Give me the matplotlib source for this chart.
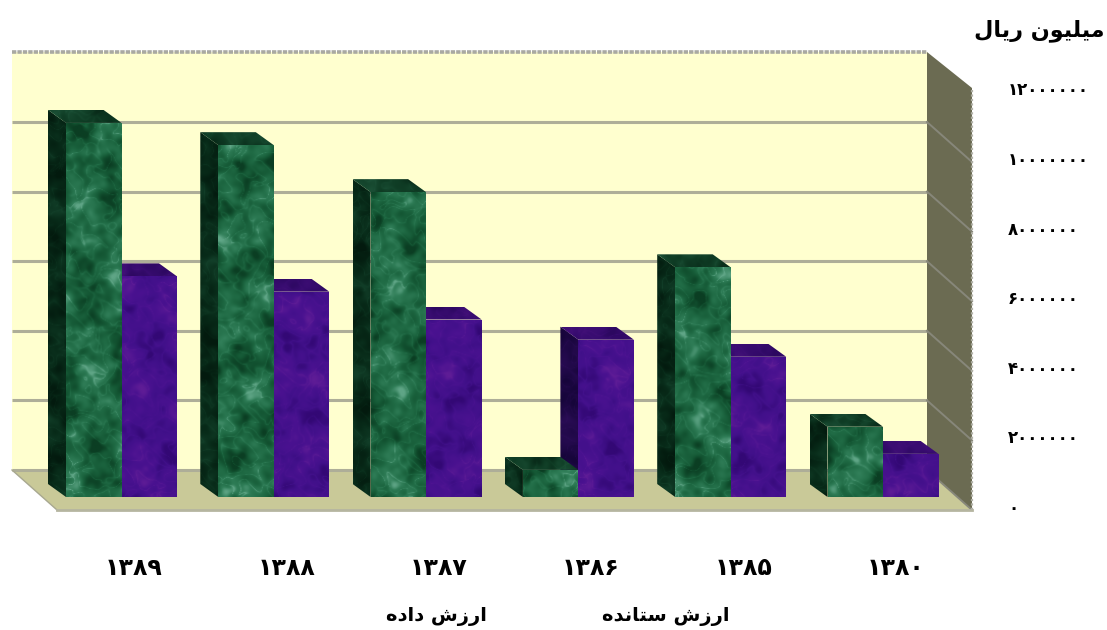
import matplotlib
matplotlib.use("Agg")
import matplotlib.pyplot as plt
import numpy as np
from matplotlib.colors import LinearSegmentedColormap
from matplotlib.patches import Polygon

# ---------------------------------------------------------------------------
# Data
# ---------------------------------------------------------------------------
years = ["۱۳۸۹", "۱۳۸۸", "۱۳۸۷", "۱۳۸۶", "۱۳۸۵", "۱۳۸۰"]
output_value = [10750000, 10110000, 8760000, 780000, 6600000, 2020000]
input_value = [6340000, 5900000, 5100000, 4520000, 4030000, 1240000]
tick_values = [0, 2000000, 4000000, 6000000, 8000000, 10000000, 12000000]
tick_labels = ["۰", "۲۰۰۰۰۰۰", "۴۰۰۰۰۰۰", "۶۰۰۰۰۰۰", "۸۰۰۰۰۰۰", "۱۰۰۰۰۰۰۰", "۱۲۰۰۰۰۰۰"]
unit_label = "میلیون ریال"
legend_labels = ["ارزش داده", "ارزش ستانده"]

# ---------------------------------------------------------------------------
# Persian shaping: matplotlib does not join letters or run them right to left
# ---------------------------------------------------------------------------
DUAL = {"م": 0xFEE1, "ل": 0xFEDD, "ن": 0xFEE5, "ش": 0xFEB5,
        "س": 0xFEB1, "ت": 0xFE95, "ه": 0xFEE9}
RIGHT = {"و": 0xFEED, "ر": 0xFEAD, "ز": 0xFEAF, "ا": 0xFE8D, "د": 0xFEA9}
YEH = "ی"


def shape(text):
    out = []
    for word in text.split(" "):
        forms = []
        for k, ch in enumerate(word):
            joins_prev = k > 0 and word[k - 1] not in RIGHT
            joins_next = k < len(word) - 1 and ch not in RIGHT
            if ch == YEH:
                base = 0xFBFC
            elif ch in DUAL:
                base = DUAL[ch]
            else:
                base = RIGHT[ch]
            offset = {(False, False): 0, (True, False): 1,
                      (False, True): 2, (True, True): 3}[(joins_prev, joins_next)]
            forms.append(chr(base + offset))
        out.append("".join(reversed(forms)))
    return " ".join(reversed(out))


# ---------------------------------------------------------------------------
# Layout: data axes fill the figure, bar front plane is the data plane
# ---------------------------------------------------------------------------
GROUP_PX = 152.3
UNIT_PX = 69.6 / 2000000


def to_x(px):
    return (px - 66) / GROUP_PX


def to_v(py):
    return (497 - py) / UNIT_PX


BAR_W = 55.5 / GROUP_PX
DX = 18 / GROUP_PX
DV = 13 / UNIT_PX

fig = plt.figure(figsize=(11.07, 6.30), dpi=100, facecolor="white")
ax = fig.add_axes([0, 0, 1, 1])
ax.set_xlim(to_x(0), to_x(1107))
ax.set_ylim(to_v(630), to_v(0))
ax.axis("off")


def poly(points, **kw):
    pts = [(to_x(a), to_v(b)) for a, b in points]
    ax.add_patch(Polygon(pts, closed=True, **kw))


# walls and floor
WALL_L, WALL_R = 12, 927
WALL_BOTTOM, WALL_TOP = 470, 52
DEPTH_X, DEPTH_Y = 45, 40
poly([(WALL_L, WALL_TOP), (WALL_R, WALL_TOP), (WALL_R, WALL_BOTTOM), (WALL_L, WALL_BOTTOM)],
     facecolor="#ffffcf", edgecolor="none", zorder=1)
poly([(WALL_L, WALL_BOTTOM), (WALL_R, WALL_BOTTOM),
      (WALL_R + DEPTH_X, WALL_BOTTOM + DEPTH_Y), (WALL_L + DEPTH_X, WALL_BOTTOM + DEPTH_Y)],
     facecolor="#c9c998", edgecolor="none", zorder=1)
poly([(WALL_R, WALL_TOP), (WALL_R + DEPTH_X, WALL_TOP + DEPTH_Y - 4),
      (WALL_R + DEPTH_X, WALL_BOTTOM + DEPTH_Y), (WALL_R, WALL_BOTTOM)],
     facecolor="#6b6b52", edgecolor="none", zorder=1)

# gridlines on the back wall, running on down the side wall
back_shift = to_v(WALL_BOTTOM)
for v in tick_values:
    y = back_shift + v
    if v == tick_values[-1]:
        ax.plot([to_x(WALL_L), to_x(WALL_R)], [y, y], color="#a9a9a2", lw=2.6,
                ls=(0, (1.2, 0.3)), zorder=2)
        continue
    ax.plot([to_x(WALL_L), to_x(WALL_R)], [y, y], color="#aeae98", lw=2.2, zorder=2,
            solid_capstyle="butt")
    ax.plot([to_x(WALL_R), to_x(WALL_R + DEPTH_X)],
            [y, y - DEPTH_Y / UNIT_PX], color="#87877a", lw=1.4, zorder=2)
ax.plot([to_x(WALL_L), to_x(WALL_L + DEPTH_X)],
        [back_shift, back_shift - DEPTH_Y / UNIT_PX], color="#a8a890", lw=1.0, zorder=2)
ax.plot([to_x(WALL_L + DEPTH_X), to_x(WALL_R + DEPTH_X)],
        [back_shift - DEPTH_Y / UNIT_PX] * 2, color="#b5b5a0", lw=2.0, zorder=2)
ax.plot([to_x(WALL_R + DEPTH_X)] * 2,
        [back_shift - DEPTH_Y / UNIT_PX, to_v(WALL_TOP + DEPTH_Y - 4)],
        color="#b0b0a6", lw=1.6, ls=(0, (1, 1)), zorder=2)


# ---------------------------------------------------------------------------
# Marble texture for the bar faces: layered sine clouds with thin bright veins
# ---------------------------------------------------------------------------
def cloud(xx, yy, phase, first, last):
    total = np.zeros_like(xx)
    for k in range(first, last):
        angle = k * 2.39996 + phase
        wavelength = 70 / (1 + 0.42 * k)
        total += wavelength * np.sin((xx * np.cos(angle) + yy * np.sin(angle))
                                     * 2 * np.pi / wavelength + k * k * 0.7 + phase)
    return total / total.std()


def marble(w_px, h_px, phase):
    nx, ny = max(int(w_px), 4), max(int(h_px), 4)
    xx, yy = np.meshgrid(np.arange(nx, dtype=float), np.arange(ny, dtype=float))
    warp = cloud(xx, yy, phase + 1.1, 0, 8)
    veins = np.exp(-np.abs(cloud(xx + 4 * warp, yy - 4 * warp, phase, 3, 14)) * 4.5)
    field = 0.7 * cloud(xx, yy, phase, 0, 16) + 0.9 * veins
    low, high = np.percentile(field, [1, 99.8])
    return np.clip((field - low) / (high - low), 0, 1)


green_map = LinearSegmentedColormap.from_list("g", ["#0b3e23", "#145734", "#1f6a44", "#2f7d57", "#5fa586"])
green_side = LinearSegmentedColormap.from_list("gs", ["#031a0e", "#082b19", "#123f29"])
green_top = LinearSegmentedColormap.from_list("gt", ["#092c1a", "#103e26", "#1b5036"])
purple_map = LinearSegmentedColormap.from_list("p", ["#330875", "#41108a", "#4a1290", "#5e1c96"])
purple_side = LinearSegmentedColormap.from_list("ps", ["#16053a", "#210949", "#2c0d58"])
purple_top = LinearSegmentedColormap.from_list("pt", ["#2c0860", "#380c70", "#421078"])


def textured(patch_pts, extent, cmap, phase, zorder):
    w_px = (extent[1] - extent[0]) * GROUP_PX
    h_px = (extent[3] - extent[2]) * UNIT_PX
    img = ax.imshow(marble(w_px, h_px, phase), extent=extent, cmap=cmap, aspect="auto",
                    origin="lower", interpolation="bilinear", zorder=zorder)
    clip = Polygon(patch_pts, closed=True, transform=ax.transData, facecolor="none",
                   edgecolor="none")
    ax.add_patch(clip)
    img.set_clip_path(clip)


def draw_bar(bar, maps, phase, zorder):
    front, side, top = maps
    x0, w, h = bar.get_x(), bar.get_width(), bar.get_height()
    textured([(x0, 0), (x0, h), (x0 - DX, h + DV), (x0 - DX, DV)],
             (x0 - DX, x0, 0, h + DV), side, phase + 1.3, zorder)
    textured([(x0, h), (x0 + w, h), (x0 + w - DX, h + DV), (x0 - DX, h + DV)],
             (x0 - DX, x0 + w, h, h + DV), top, phase + 2.1, zorder)
    textured([(x0, 0), (x0 + w, 0), (x0 + w, h), (x0, h)],
             (x0, x0 + w, 0, h), front, phase, zorder + 0.1)


positions = np.arange(len(years))
green_bars = ax.bar(positions, output_value, BAR_W, align="edge", color="none", zorder=3)
purple_bars = ax.bar(positions + BAR_W, input_value, BAR_W, align="edge", color="none", zorder=3)
for i, (g_bar, p_bar) in enumerate(zip(green_bars, purple_bars)):
    draw_bar(p_bar, (purple_map, purple_side, purple_top), 0.9 * i + 4.0, 4 + 2 * i)
    draw_bar(g_bar, (green_map, green_side, green_top), 1.7 * i + 0.5, 5 + 2 * i)

ax.set_xlim(to_x(0), to_x(1107))
ax.set_ylim(to_v(630), to_v(0))

# ---------------------------------------------------------------------------
# Text
# ---------------------------------------------------------------------------
FONT = dict(family="DejaVu Sans", fontweight="bold", color="black", zorder=30)
for v, lab in zip(tick_values, tick_labels):
    ax.text(to_x(1008), to_v(508) + v, lab, fontsize=12, ha="left", va="center", **FONT)
for pos, lab in zip(positions, years):
    ax.text(pos + 68 / GROUP_PX, to_v(568), lab, fontsize=17, ha="center", va="center", **FONT)
ax.text(to_x(1105), to_v(31), shape(unit_label), fontsize=16, ha="right", va="center", **FONT)
ax.text(to_x(436), to_v(616), shape(legend_labels[0]), fontsize=14, ha="center", va="center", **FONT)
ax.text(to_x(666), to_v(616), shape(legend_labels[1]), fontsize=14, ha="center", va="center", **FONT)

fig.savefig("out.png", dpi=100)
plt.close("all")
